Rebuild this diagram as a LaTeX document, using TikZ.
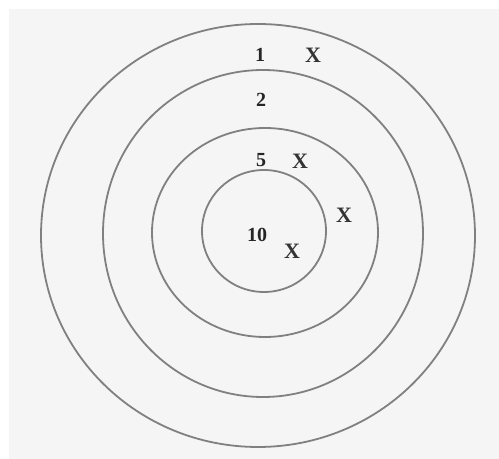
\documentclass[tikz,border=0pt]{standalone}
\usepackage{fontspec}
\setmainfont{Liberation Serif}
\usepackage{tikz}
\tikzset{
  ring/.style={draw=black!50, line width=0.9pt},
  score/.style={font=\bfseries\fontsize{10}{11}\selectfont, text=black!85, inner sep=0pt},
  hit/.style={font=\bfseries\fontsize{11}{12}\selectfont, text=black!80, inner sep=0pt}
}

\begin{document}
\begin{tikzpicture}[x=0.5pt, y=-0.5pt]
% background, pixel coordinates
\fill[white] (0,0) rectangle (499,459);
\fill[black!4] (9,9) rectangle (499,459);
\useasboundingbox (0,0) rectangle (499,459);
% target rings
\draw[ring] (258,235.5) ellipse [x radius=217, y radius=211.5];
\draw[ring] (263,233.5) ellipse [x radius=160, y radius=163.5];
\draw[ring] (265,232.5) ellipse [x radius=113, y radius=104.5];
\draw[ring] (264,231) ellipse [x radius=62, y radius=61];
% ring scores
\node[score] (one) at (260,55) {1};
\node[score] (two) at (261,100) {2};
\node[score] (five) at (261,160) {5};
\node[score] (ten) at (257,235) {10};
% hits
\node[hit] (hitone) at (313,55) {X};
\node[hit] (hitfive) at (300,161) {X};
\node[hit] (hittwo) at (344,215) {X};
\node[hit] (hitten) at (292,251) {X};
\end{tikzpicture}
\end{document}
